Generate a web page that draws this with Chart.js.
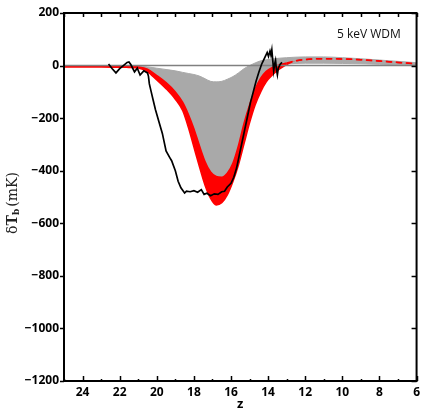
<!DOCTYPE html>
<html>
<head>
<meta charset="utf-8">
<script src="https://cdn.jsdelivr.net/npm/chart.js@4/dist/chart.umd.min.js"></script>
<style>
  html, body { margin: 0; padding: 0; background: #fff; }
  #wrap { width: 424px; height: 412px; position: relative; }
</style>
</head>
<body>
<div id="wrap"><canvas id="wdmChart"></canvas></div>
<script>
// redshift grid shared by the model envelopes
const bandZ = [25, 23, 22, 21.5, 21, 20.5, 20, 19.5, 19, 18.6, 18.3, 18, 17.7, 17.4, 17.1, 16.8, 16.5, 16.2,
    15.9, 15.6, 15.3, 15, 14.7, 14.4, 14.1, 13.8, 13.4, 13, 12.5, 12, 11, 10, 9, 8, 7, 6];

// grey family of models (top / bottom of the spread), mK
const grayTop = [-1, -1, -1, -2, -3, -5, -10, -15, -20, -26, -30, -34, -40, -50, -60, -62, -60, -52,
    -42, -28, -12, 0, 10, 18, 22, 25, 28, 30, 32, 33, 33, 30, 26, 21, 16, 11];
const grayBottom = [-2, -2, -3, -4, -6, -14, -38, -65, -100, -140, -185, -240, -305, -365, -405, -422, -425, -410,
    -372, -305, -220, -150, -90, -48, -22, -8, 2, 6, 8, 9, 9, 8, 7, 5, 3, 2];

// red 5 keV WDM envelope, mK
const redUpper = [-2, -2, -3, -3, -5, -14, -38, -65, -100, -140, -185, -240, -305, -365, -405, -422, -425, -410,
    -372, -305, -220, -150, -90, -48, -22, -8, 2, 10, 18, 23, 26, 25, 22, 17, 12, 7];
const redLower = [-5, -5, -6, -7, -9, -24, -55, -88, -128, -172, -235, -310, -385, -455, -505, -530, -522, -492,
    -442, -378, -298, -218, -150, -100, -62, -38, -14, 4, 18, 23, 26, 25, 22, 17, 12, 7];

// measured absorption profile
const blackZ = [22.6, 22.4, 22.2, 22.0, 21.8, 21.6, 21.5, 21.4, 21.2, 21.05, 20.9, 20.7, 20.5, 20.45, 20.4, 20.3,
    20.2, 20.07, 19.9, 19.7, 19.5, 19.3, 19.2, 19.0, 18.85, 18.7, 18.5, 18.4, 18.2, 18.0, 17.8, 17.6, 17.45,
    17.3, 17.1, 16.9, 16.7, 16.5, 16.35, 16.2, 16.0, 15.85, 15.7, 15.55, 15.4, 15.25, 15.1, 14.95, 14.8, 14.65,
    14.5, 14.35, 14.25, 14.15, 14.05, 13.98, 13.9, 13.85, 13.8, 13.75, 13.7, 13.65, 13.6, 13.55, 13.5, 13.45,
    13.35, 13.25];
const blackT = [6, -12, -28, -12, 0, 12, 14, 4, -24, -10, -36, -20, -28, -40, -70, -100,
    -130, -168, -210, -258, -325, -350, -362, -400, -440, -465, -485, -478, -480, -476, -482, -472, -490,
    -486, -495, -488, -490, -480, -478, -462, -448, -425, -390, -340, -290, -240, -190, -140, -100, -60,
    -25, 5, 20, 35, 50, 35, 55, 40, 60, 20, -20, 5, 20, -15, -35, -10,
    5, 12];

const zeroZ = [25, 6];
const zeroT = [0, 0];

const yTicks = [200, 0, -200, -400, -600, -800, -1000, -1200];

const pts = (xs, ys) => xs.map((x, i) => ({ x: x, y: ys[i] }));

const GRAY = "#a9a9a9";
const RED = "#ff0000";
const dashRight = (ctx) => (ctx.p0.parsed.x <= 13 ? [6, 4] : undefined);

// frame, inward ticks, y title and the model label
const decorations = {
    id: "decorations",
    afterDraw(chart) {
        const { ctx, chartArea: a, scales } = chart;
        const xs = scales.x, ys = scales.y;
        ctx.save();
        ctx.strokeStyle = "#000";
        ctx.lineWidth = 2;
        ctx.strokeRect(a.left, a.top, a.right - a.left, a.bottom - a.top);

        ctx.lineWidth = 1.5;
        ctx.beginPath();
        for (let z = 6; z <= 25; z++) {
            const px = Math.round(xs.getPixelForValue(z)) + 0.5;
            const len = z % 2 === 0 ? 5 : 2;
            ctx.moveTo(px, a.bottom);
            ctx.lineTo(px, a.bottom - len);
            ctx.moveTo(px, a.top);
            ctx.lineTo(px, a.top + 4);
        }
        yTicks.forEach((v) => {
            const py = Math.round(ys.getPixelForValue(v)) + 0.5;
            ctx.moveTo(a.left - 4, py);
            ctx.lineTo(a.left, py);
            ctx.moveTo(a.right, py);
            ctx.lineTo(a.right - 5, py);
        });
        ctx.stroke();

        // model label
        ctx.fillStyle = "#111";
        ctx.font = "12px 'Open Sans'";
        ctx.textAlign = "left";
        ctx.textBaseline = "middle";
        ctx.fillText("5 keV WDM", 337, 35);

        // rotated y-axis title with subscript
        const parts = [
            { t: "\u03b4", f: "14px 'DejaVu Serif'", dy: 0, gap: 0 },
            { t: "T", f: "bold 14px 'DejaVu Serif'", dy: 0, gap: 0 },
            { t: "b", f: "bold 9px 'DejaVu Serif'", dy: 4, gap: 2 },
            { t: "(mK)", f: "14px 'DejaVu Serif'", dy: 0, gap: 0 }
        ];
        let total = 0;
        parts.forEach((p) => { ctx.font = p.f; p.w = ctx.measureText(p.t).width + p.gap; total += p.w; });
        ctx.fillStyle = "#222";
        ctx.translate(13, 203);
        ctx.rotate(-Math.PI / 2);
        ctx.textBaseline = "middle";
        let cx = -total / 2;
        parts.forEach((p) => {
            ctx.font = p.f;
            ctx.fillText(p.t, cx, p.dy);
            cx += p.w;
        });
        ctx.restore();
    }
};

new Chart(document.getElementById("wdmChart"), {
    type: "line",
    data: {
        datasets: [
            {
                data: pts(blackZ, blackT),
                borderColor: "#000",
                borderWidth: 1.7,
                pointRadius: 0,
                tension: 0,
                fill: false
            },
            {
                data: pts(zeroZ, zeroT),
                borderColor: "#808080",
                borderWidth: 1.5,
                pointRadius: 0,
                fill: false
            },
            {
                data: pts(bandZ, redUpper),
                borderColor: RED,
                borderWidth: 1.5,
                pointRadius: 0,
                cubicInterpolationMode: "monotone",
                fill: false,
                segment: { borderDash: dashRight }
            },
            {
                data: pts(bandZ, redLower),
                borderColor: RED,
                backgroundColor: RED,
                borderWidth: 1.5,
                pointRadius: 0,
                cubicInterpolationMode: "monotone",
                fill: "-1",
                segment: { borderDash: dashRight }
            },
            {
                data: pts(bandZ, grayTop),
                borderColor: GRAY,
                borderWidth: 1,
                pointRadius: 0,
                cubicInterpolationMode: "monotone",
                fill: false
            },
            {
                data: pts(bandZ, grayBottom),
                borderColor: GRAY,
                backgroundColor: GRAY,
                borderWidth: 1,
                pointRadius: 0,
                cubicInterpolationMode: "monotone",
                fill: "-1"
            }
        ]
    },
    options: {
        responsive: true,
        maintainAspectRatio: false,
        animation: false,
        layout: { padding: { top: 13, right: 4, left: 0, bottom: 0 } },
        plugins: {
            legend: { display: false },
            tooltip: { enabled: false }
        },
        scales: {
            x: {
                type: "linear",
                reverse: true,
                min: 6,
                max: 25,
                grid: { display: false, drawTicks: false },
                border: { display: false },
                ticks: {
                    stepSize: 1,
                    autoSkip: false,
                    maxRotation: 0,
                    padding: 4,
                    color: "#000",
                    font: { family: "'Open Sans'", size: 12, weight: "bold" },
                    callback: (v) => (v % 2 === 0 ? String(v) : "")
                },
                title: {
                    display: true,
                    text: "z",
                    color: "#000",
                    padding: 0,
                    font: { family: "'Open Sans'", size: 13, weight: "bold" }
                },
                afterFit: (scale) => { scale.height = 31; }
            },
            y: {
                min: -1200,
                max: 200,
                grid: { display: false, drawTicks: false },
                border: { display: false },
                ticks: {
                    stepSize: 200,
                    padding: 5,
                    color: "#000",
                    font: { family: "'Open Sans'", size: 12, weight: "bold" },
                    callback: (v) => String(v).replace("-", "\u2212")
                },
                afterFit: (scale) => { scale.width = 64; }
            }
        }
    },
    plugins: [decorations]
});
</script>
</body>
</html>
